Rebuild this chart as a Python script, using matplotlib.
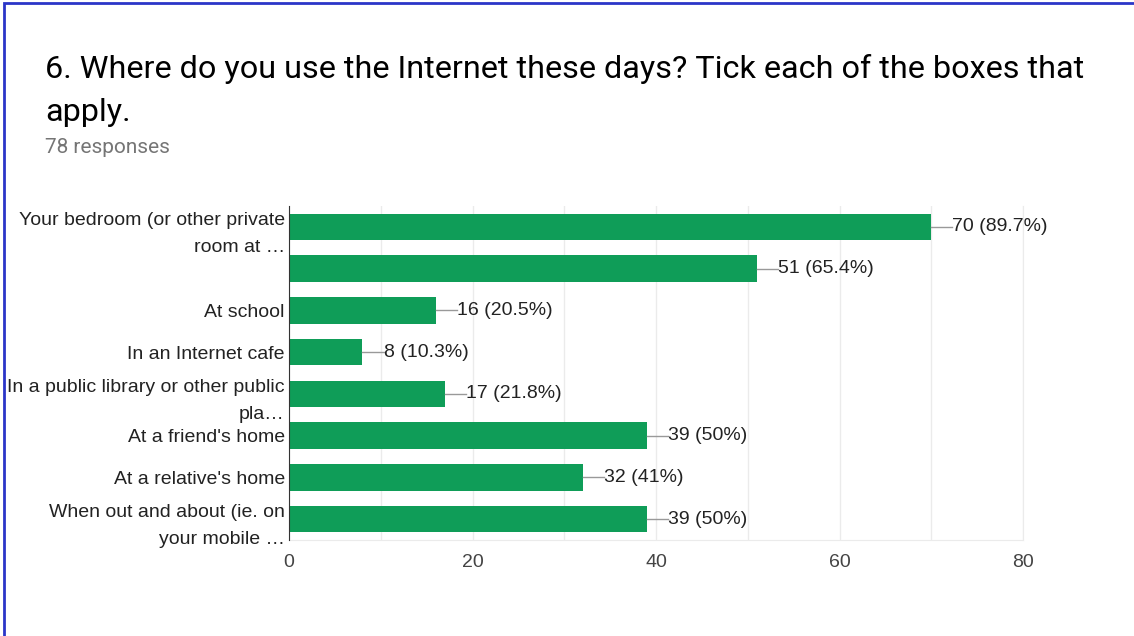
import matplotlib.pyplot as plt
from matplotlib.patches import Rectangle

plt.rcParams['font.family'] = ['Liberation Sans', 'DejaVu Sans']

# Daten
kategorien = ["Your bedroom (or other private\nroom at \u2026",
              "",
              "At school",
              "In an Internet cafe",
              "In a public library or other public\npla\u2026",
              "At a friend's home",
              "At a relative's home",
              "When out and about (ie. on\nyour mobile \u2026"]
anzahl = [70, 51, 16, 8, 17, 39, 32, 39]
prozent = ["89.7%", "65.4%", "20.5%", "10.3%", "21.8%", "50%", "41%", "50%"]
xticks = [0, 20, 40, 60, 80]

gruen = "#0f9d58"

fig = plt.figure(figsize=(11.34, 6.36), dpi=100)
ax = fig.add_axes([289/1134, 1-540/636, (1023-289)/1134, (540-206)/636])

ypos = list(range(len(kategorien)))
ax.barh(ypos, anzahl, height=0.63, color=gruen, zorder=3)

# Beschriftung der Balken mit Fuehrungslinie
for y, n, p in zip(ypos, anzahl, prozent):
    ax.plot([n, n + 2.3], [y, y], color="#999999", lw=1, zorder=3)
    ax.text(n + 2.3, y, f"{n} ({p})", va="center", ha="left",
            fontsize=14, color="#222222")

ax.set_xlim(0, 80)
ax.set_ylim(7.5, -0.5)
ax.set_yticks(ypos)
ax.set_yticklabels(kategorien, fontsize=14, color="#222222",
                   linespacing=1.75)
ax.set_xticks(xticks)
ax.set_xticks(range(10, 80, 20), minor=True)
ax.tick_params(axis="x", which="both", length=0, labelsize=14,
               labelcolor="#444444", pad=10)
ax.tick_params(axis="y", length=0, pad=3)
ax.grid(True, axis="x", which="both", color="#ebebeb", lw=1, zorder=0)

ax.spines["top"].set_visible(False)
ax.spines["right"].set_color("#ebebeb")
ax.spines["bottom"].set_color("#ebebeb")
ax.spines["left"].set_color("#333333")
ax.spines["left"].set_zorder(4)

# Titel
fig.text(45/1134, 1-78/636, "6. Where do you use the Internet these days? Tick each of the boxes that",
         fontsize=23.3, color="black", va="baseline", family=["Roboto", "DejaVu Sans"])
fig.text(45/1134, 1-121/636, "apply.",
         fontsize=23.3, color="black", va="baseline", family=["Roboto", "DejaVu Sans"])
fig.text(45/1134, 1-153/636, "78 responses",
         fontsize=15, color="#757575", va="baseline", family=["Roboto", "DejaVu Sans"])

# blauer Rahmen
fig.patches.append(Rectangle((4/1134, -0.1), 1.2, (1-3/636) + 0.1, transform=fig.transFigure,
                             fill=False, edgecolor="#2b35c8", lw=2))

fig.savefig("out.png", dpi=100)
